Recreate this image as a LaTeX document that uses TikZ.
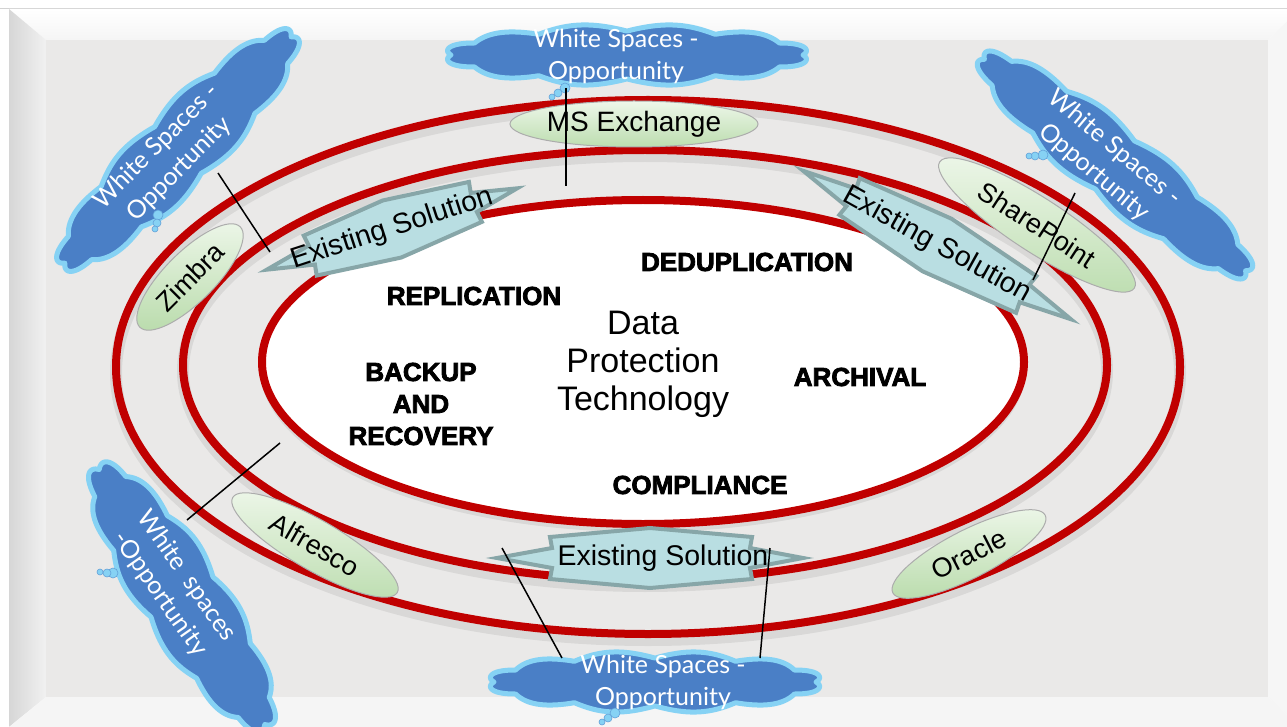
\documentclass[tikz,border=0pt]{standalone}
\usepackage{fontspec}
\setmainfont{Liberation Sans}
\newfontfamily\cloudfont{Lato}
\newfontfamily\heavyfont{Liberation Sans}[BoldFeatures={FakeBold=3}]
\usetikzlibrary{shapes.geometric,calc}
\definecolor{bgray}{HTML}{EAE9E8}
\definecolor{ringred}{HTML}{C00000}
\definecolor{cloudfill}{HTML}{4A7FC6}
\definecolor{cloudedge}{HTML}{86D2F4}
\definecolor{pilltop}{HTML}{EEF7EA}
\definecolor{pillbot}{HTML}{BCDDAF}
\definecolor{bannerfill}{HTML}{B9DEE2}
\definecolor{banneredge}{HTML}{87A6A8}
\tikzset{
  ring/.style={draw=ringred, line width=8pt},
  ringshade/.style={draw=black, opacity=0.07, line width=12pt},
  wcloud/.style={draw=cloudedge, fill=cloudfill, line width=5pt, line join=round},
  cloudtext/.style={text=white, font=\cloudfont\fontsize{25}{32}\selectfont,
    align=center, inner sep=0pt},
  bubble/.style={circle, fill=cloudedge, draw=cloudfill!60!cloudedge, line width=0.6pt, inner sep=0pt},
  pill/.style={ellipse, draw=gray!65, line width=1pt, top color=pilltop,
    bottom color=pillbot, inner sep=0pt, font=\fontsize{27}{30}\selectfont},
  techlabel/.style={font=\heavyfont\bfseries\fontsize{26}{32}\selectfont, align=center, inner sep=0pt},
  bannershape/.style={fill=bannerfill, draw=banneredge, line width=4pt, line join=miter},
  bannertext/.style={font=\fontsize{28.5}{32}\selectfont, inner sep=0pt},
  link/.style={draw=black, line width=1.5pt},
  pics/banner/.style={code={
    \draw[bannershape] (-153,0) -- (-98,-10) -- (-100,-21) -- (0,-30) -- (102,-21)
      -- (100,-10) -- (153,0) -- (100,10) -- (102,21) -- (0,30) -- (-100,21)
      -- (-98,10) -- cycle;
  }},
}
% puffy outline: half axes #1, #2 with #3 puffs per half turn
\newcommand\puffcloud[3]{%
  \draw[wcloud] plot[domain=0:360, samples=241, smooth]
    ({(#1+7*abs(sin(#3*\x)))*cos(\x)}, {(#2+7*abs(sin(#3*\x)))*sin(\x)}) -- cycle;}
\begin{document}
\begin{tikzpicture}[x=1pt, y=-1pt]
\useasboundingbox (0,0) rectangle (1287,727);
% slide background with a bevelled frame
\fill[white] (0,0) rectangle (1287,727);
\draw[gray!35, line width=1pt] (0,8.5) -- (1287,8.5);
\shade[top color=white, bottom color=gray!8] (9,9) -- (1300,9) -- (1268,40) -- (46,40) -- cycle;
\shade[left color=gray!32, right color=gray!11] (9,9) -- (46,40) -- (46,697) -- (9,727) -- cycle;
\fill[gray!7] (1300,9) -- (1268,40) -- (1268,697) -- (1300,727) -- cycle;
\fill[gray!8] (9,727) -- (46,697) -- (1268,697) -- (1300,727) -- cycle;
\fill[bgray] (46,40) rectangle (1268,697);

% three rings around the core
\draw[ringshade] (648,373) ellipse [x radius=532pt, y radius=267pt];
\draw[ring] (648,367) ellipse [x radius=532pt, y radius=267pt];
\draw[ringshade] (645,371) ellipse [x radius=462pt, y radius=215pt];
\draw[ring] (645,365) ellipse [x radius=462pt, y radius=215pt];
\fill[black, opacity=0.07] (643,368) ellipse [x radius=383pt, y radius=164pt];
\draw[ring, fill=white] (643,362) ellipse [x radius=381pt, y radius=162pt];

% core technologies
\node[font=\fontsize{34}{38}\selectfont, align=center] (core) at (643,364)
  {Data\\Protection\\Technology};
\node[techlabel] (rep) at (474,296) {REPLICATION};
\node[techlabel] (dedup) at (747,262) {DEDUPLICATION};
\node[techlabel] (bkp) at (421,404) {BACKUP\\AND\\RECOVERY};
\node[techlabel] (arch) at (860,377) {ARCHIVAL};
\node[techlabel] (comp) at (700,485) {COMPLIANCE};

% application pills
\node[pill, minimum width=248pt, minimum height=46pt, font=\fontsize{28}{30}\selectfont]
  (msx) at (634,124) {MS Exchange};
\node[pill, minimum width=142pt, minimum height=50pt, rotate=45] (zim) at (190,277) {Zimbra};
\node[pill, minimum width=232pt, minimum height=54pt, rotate=-33] (shp) at (1037,225) {SharePoint};
\node[pill, minimum width=190pt, minimum height=50pt, rotate=-30] (alf) at (315,545) {Alfresco};
\node[pill, minimum width=171pt, minimum height=48pt, rotate=27] (orc) at (969,554) {Oracle};

% existing solution banners
\pic[rotate=18, xscale=0.86] at (392,229) {banner};
\node[bannertext, rotate=18] (es1) at (392,229) {Existing Solution};
\pic[rotate=-29] at (937,245) {banner};
\node[bannertext, rotate=-29] (es2) at (937,245) {Existing Solution};
\pic at (650,558) {banner};
\node[bannertext] (es3) at (663,558) {Existing Solution};

% white-space clouds
\begin{scope}[shift={(627,55)}] \puffcloud{176}{24}{6} \end{scope}
\node[cloudtext] (ct) at (616,56) {White Spaces -\\Opportunity};
\begin{scope}[shift={(178,150)}, rotate=45] \puffcloud{160}{33}{6} \end{scope}
\node[cloudtext, rotate=45] (ctl) at (168,158) {White Spaces -\\Opportunity};
\begin{scope}[shift={(1115,165)}, rotate=-39] \puffcloud{168}{31}{6} \end{scope}
\node[cloudtext, rotate=-40] (ctr) at (1104,160) {White Spaces -\\Opportunity};
\begin{scope}[shift={(182,597)}, rotate=-57] \puffcloud{152}{37}{6} \end{scope}
\node[cloudtext, rotate=-55] (cbl) at (173,585) {White\enspace spaces\\-Opportunity};
\begin{scope}[shift={(655,682)}] \puffcloud{161}{24}{6} \end{scope}
\node[cloudtext] (cb) at (663,682) {White Spaces -\\Opportunity};

% thought bubbles
\foreach \x/\y/\r in {565/88/5, 558/93/4, 552/97/3,
    158/215/5, 157/223/4, 155/229/3,
    1043/155/5, 1035/156/4, 1029/156/3,
    113/573/5, 107/573/4, 100/572/3,
    615/713/5, 608/718/4, 602/722/3}
  \node[bubble, minimum size=2*\r pt] at (\x,\y) {};

% connector end points
\coordinate (ct-end) at (566,88);   \coordinate (ring-top) at (566,186);
\coordinate (ctl-end) at (218,173); \coordinate (es1-tip) at (270,252);
\coordinate (ctr-end) at (1075,193); \coordinate (es2-end) at (1033,280);
\coordinate (ring-bl) at (280,443); \coordinate (cbl-end) at (187,520);
\coordinate (es3-l) at (502,548);   \coordinate (cb-l) at (562,658);
\coordinate (es3-r) at (770,548);   \coordinate (cb-r) at (760,658);

% connectors
\draw[link] (ct-end) -- (ring-top);
\draw[link] (ctl-end) -- (es1-tip);
\draw[link] (ctr-end) -- (es2-end);
\draw[link] (ring-bl) -- (cbl-end);
\draw[link] (es3-l) -- (cb-l);
\draw[link] (es3-r) -- (cb-r);
\end{tikzpicture}
\end{document}
